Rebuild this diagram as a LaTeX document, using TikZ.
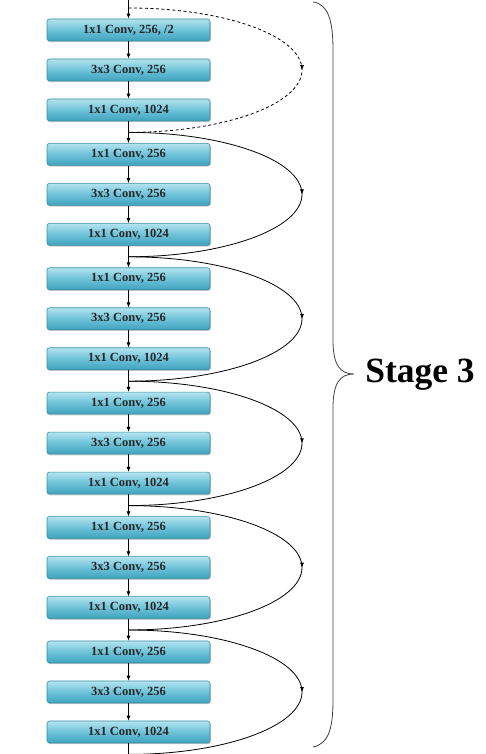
\documentclass[tikz,border=0pt]{standalone}
\usepackage{fontspec}
\setmainfont{Liberation Serif}
\usetikzlibrary{arrows.meta,shadows,decorations.markings}

\definecolor{convtop}{HTML}{B4E3EF}
\definecolor{convmid}{HTML}{6DC2D8}
\definecolor{convbot}{HTML}{3FA2BD}
\definecolor{convline}{HTML}{3A8DA5}

\tikzset{
  conv/.style={rectangle, rounded corners=2.5pt, draw=convline, line width=0.6pt,
    top color=convtop, bottom color=convbot, middle color=convmid,
    minimum width=163pt, minimum height=22pt, inner sep=0pt,
    font=\fontsize{12.5}{13}\selectfont\bfseries, text=black!85,
    drop shadow={shadow xshift=0.8pt, shadow yshift=-1.2pt, opacity=0.4}},
  flow/.style={-{Latex[length=5pt,width=4pt]}, line width=0.7pt},
  skip/.style={line width=0.8pt, postaction={decorate},
    decoration={markings, mark=at position 0.5 with {\arrow{Latex[length=5pt,width=4pt]}}}},
}

\begin{document}
\begin{tikzpicture}[x=1pt,y=1pt]
  \useasboundingbox (0,0) rectangle (486,754);
  \coordinate (in) at (128.5,754);
  % junctions between the blocks
  \foreach \k in {0,...,6} {
    \coordinate (j\k) at (128.5,{746-124.4*\k});
  }
  % three convolutions per block
  \foreach \k in {0,...,5} {
    \pgfmathsetmacro\yy{724-124.4*\k}
    \ifnum\k=0
      \node[conv] (c\k0) at (128.5,\yy) {1x1 Conv, 256, /2};
    \else
      \node[conv] (c\k0) at (128.5,\yy) {1x1 Conv, 256};
    \fi
    \node[conv] (c\k1) at (128.5,\yy-40) {3x3 Conv, 256};
    \node[conv] (c\k2) at (128.5,\yy-80) {1x1 Conv, 1024};
    \coordinate (m\k) at (302,\yy-40);
  }
  % main path
  \draw[line width=0.7pt] (in) -- (j0);
  \foreach \k [evaluate=\k as \n using int(\k+1)] in {0,...,5} {
    \draw[flow] (j\k) -- (c\k0);
    \draw[flow] (c\k0) -- (c\k1);
    \draw[flow] (c\k1) -- (c\k2);
    \draw[line width=0.7pt] (c\k2) -- (j\n);
  }
  % shortcuts, the first one is a projection
  \draw[skip, dashed, dash pattern=on 3pt off 2.5pt]
    (j0) .. controls +(95.5,0) and +(0,34.4) .. (m0)
         .. controls +(0,-34.4) and +(95.5,0) .. (j1);
  \foreach \k [evaluate=\k as \n using int(\k+1)] in {1,...,5} {
    \draw[skip] (j\k) .. controls +(95.5,0) and +(0,34.4) .. (m\k)
                      .. controls +(0,-34.4) and +(95.5,0) .. (j\n);
  }
  % brace
  \draw[line width=0.8pt, black!75]
    (313,752) .. controls (328,750) and (333,734) .. (333,704)
    -- (333,414) .. controls (333,389) and (340,380) .. (354,380)
    .. controls (340,380) and (333,371) .. (333,346)
    -- (333,54) .. controls (333,24) and (328,10) .. (313,7);
  \node[anchor=base, font=\fontsize{35.5}{36}\selectfont\bfseries] (st) at (420,371) {Stage 3};
\end{tikzpicture}
\end{document}
